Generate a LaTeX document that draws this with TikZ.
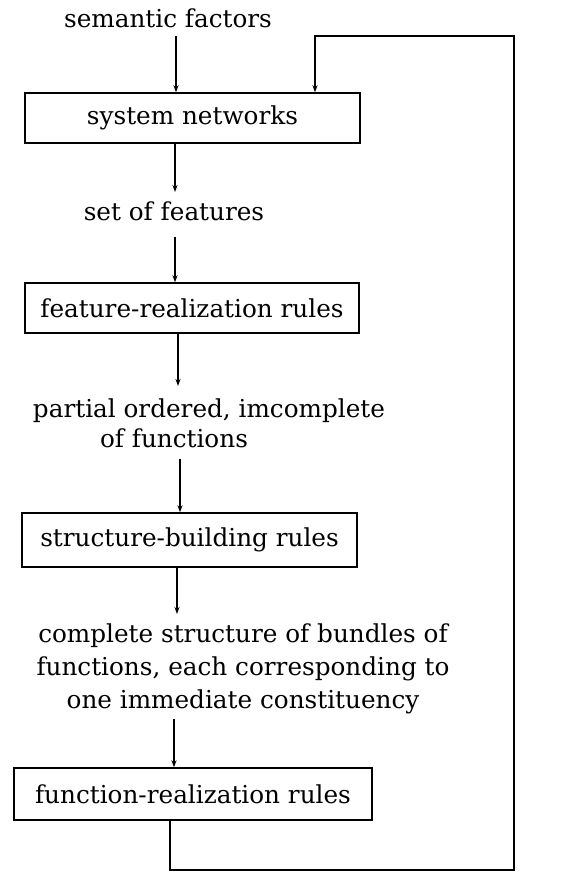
\documentclass[tikz,border=0pt]{standalone}
\usepackage{fontspec}
\setmainfont{DejaVu Serif}
\usetikzlibrary{arrows.meta}
\begin{document}
\begin{tikzpicture}[x=1pt,y=-1pt,
  txt/.style={font=\fontsize{24.7}{30}\selectfont},
  box/.style={draw,line width=1.4pt,inner sep=0pt,txt},
  lbl/.style={inner sep=0pt,anchor=base,txt},
  ln/.style={line width=1.4pt},
  arr/.style={line width=1.4pt,-{Stealth[length=7pt,width=5pt]}}]
\useasboundingbox (0,0) rectangle (576,872);
% labels
\node[lbl] (sf) at (168,28) {semantic factors};
\node[lbl] (sof) at (174,220) {set of features};
\node[lbl] (p1) at (209,417) {partial ordered, imcomplete};
\node[lbl] (p2) at (174,447) {of functions};
\node[lbl] (c1) at (243,642) {complete structure of bundles of};
\node[lbl] (c2) at (243,675) {functions, each corresponding to};
\node[lbl] (c3) at (243,708) {one immediate constituency};
% boxes
\node[box,minimum width=335pt,minimum height=50pt] (sys) at (192.5,118) {system networks};
\node[box,minimum width=334pt,minimum height=50pt] (fr) at (192,308) {feature-realization rules};
\node[box,minimum width=335pt,minimum height=54pt] (sb) at (189.5,540) {structure-building rules};
\node[box,minimum width=358pt,minimum height=52pt] (fn) at (193,794) {function-realization rules};
% columns
\coordinate (k1) at (176,0);
\coordinate (k2) at (175,0);
\coordinate (k3) at (178,0);
\coordinate (k4) at (180,0);
\coordinate (k5) at (177,0);
\coordinate (k6) at (174,0);
% arrows
\draw[arr,shorten <=7pt] (sf.south -| k1) -- (sys.north -| k1);
\draw[arr,shorten >=9pt] (sys.south -| k2) -- (sof.north -| k2);
\draw[arr,shorten <=16pt] (sof.south -| k2) -- (fr.north -| k2);
\draw[arr,shorten >=12pt] (fr.south -| k3) -- (p1.north -| k3);
\draw[arr,shorten <=11pt] (p2.south -| k4) -- (sb.north -| k4);
\draw[arr,shorten >=9pt] (sb.south -| k5) -- (c1.north -| k5);
\draw[arr,shorten <=5pt] (c3.south -| k6) -- (fn.north -| k6);
% feedback loop
\coordinate (lb) at (170,870);
\coordinate (rb) at (514,870);
\coordinate (rt) at (514,36);
\coordinate (lt) at (315,36);
\draw[arr,line join=miter] (fn.south -| lb) -- (lb) -- (rb) -- (rt) -- (lt) -- (lt |- sys.north);
\end{tikzpicture}
\end{document}
